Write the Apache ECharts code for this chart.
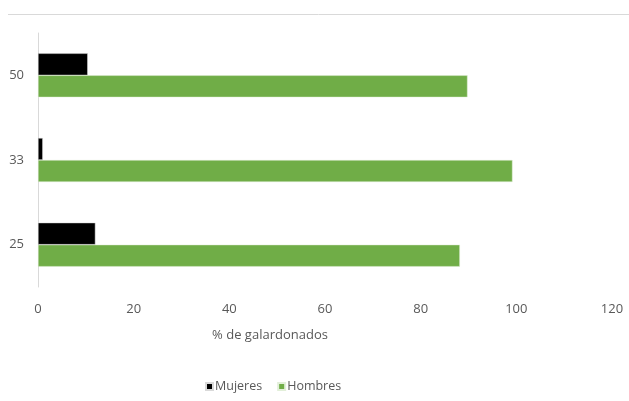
<!DOCTYPE html>
<html>
<head>
<meta charset="utf-8">
<script src="https://cdn.jsdelivr.net/npm/echarts@6/dist/echarts.min.js"></script>
<style>html,body{margin:0;padding:0;background:#fff;}#c{width:629px;height:401px;}</style>
</head>
<body>
<div id="c"></div>
<script>
var categories = ['25', '33', '50'];
var mujeres = [12.0, 1.0, 10.4];
var hombres = [88.2, 99.2, 89.8];
var xTicks = [0, 20, 40, 60, 80, 100, 120];

var chart = echarts.init(document.getElementById('c'), null, {renderer: 'canvas'});
var font = '"Open Sans", sans-serif';
chart.setOption({
  animation: false,
  textStyle: {fontFamily: font},
  graphic: [{
    type: 'line', shape: {x1: 8, y1: 14.5, x2: 629, y2: 14.5},
    style: {stroke: '#d9d9d9', lineWidth: 1}
  }],
  grid: {left: 38, right: 17, top: 33, bottom: 114},
  legend: {
    data: ['Mujeres', 'Hombres'],
    left: 200, top: 375,
    itemWidth: 7, itemHeight: 7, itemGap: 15,
    icon: 'rect',
    textStyle: {color: '#595959', fontSize: 12.5, fontFamily: font, padding: [0, 0, 0, -3]}
  },
  xAxis: {
    type: 'value', min: xTicks[0], max: xTicks[xTicks.length - 1], interval: 20,
    axisLine: {show: false}, axisTick: {show: false}, splitLine: {show: false},
    axisLabel: {color: '#595959', fontSize: 13, margin: 16, fontFamily: font},
    name: '% de galardonados', nameLocation: 'middle', nameGap: 42,
    nameTextStyle: {color: '#595959', fontSize: 13, fontFamily: font, padding: [0, 110, 0, 0]}
  },
  yAxis: {
    type: 'category', data: categories,
    axisLine: {show: true, lineStyle: {color: '#d9d9d9', width: 1}},
    axisTick: {show: false},
    axisLabel: {color: '#595959', fontSize: 13, margin: 14, fontFamily: font}
  },
  series: [
    {name: 'Mujeres', type: 'bar', data: mujeres, barWidth: 22, barGap: '0%',
     itemStyle: {color: '#000000', borderColor: '#d9d9d9', borderWidth: 0.5}},
    {name: 'Hombres', type: 'bar', data: hombres, barWidth: 22, barGap: '0%',
     itemStyle: {color: '#70AD47', borderColor: '#e2efd9', borderWidth: 0.5}}
  ]
});
</script>
</body>
</html>
